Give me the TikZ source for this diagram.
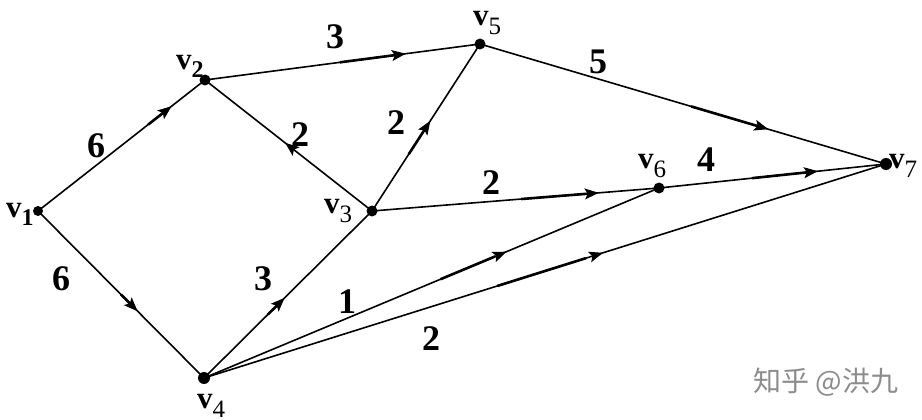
\documentclass[tikz,border=0pt]{standalone}
\usepackage{fontspec}
\setmainfont{Liberation Serif}
\newfontfamily\cjkmark{Noto Sans CJK SC}
\usetikzlibrary{decorations.markings,arrows.meta,calc}
\tikzset{
  x=1pt,y=-1pt,
  vertex/.style={circle,fill=black,inner sep=0pt,minimum size=11pt},
  edgeline/.style={line width=1.6pt,black},
  boldpart/.style={line width=2.6pt,black},
  tipat/.style={postaction={decorate},decoration={markings,mark=at position #1 with {\arrow[line width=1pt]{Stealth[length=14pt,width=11pt,inset=3pt]}}}},
  vname/.style={font=\fontsize{31}{31}\selectfont\bfseries,inner sep=0pt,anchor=base west},
  weight/.style={font=\fontsize{36}{36}\selectfont\bfseries,inner sep=0pt,anchor=center},
}
\newcommand{\vn}[1]{v\raisebox{-8pt}{\fontsize{24}{24}\selectfont #1}}
\newcommand{\vm}[1]{v\raisebox{-9pt}{\fontsize{25}{25}\selectfont\mdseries #1}}
\newcommand{\flowedge}[5]{%
  \draw[edgeline,tipat=#3] (#1.center) -- (#2.center);
  \draw[boldpart] ($(#1.center)!#4!(#2.center)$) -- ($(#1.center)!#5!(#2.center)$);
}
\begin{document}
\begin{tikzpicture}
\useasboundingbox (0,0) rectangle (922,420);
\node[vertex,minimum size=10pt] (v1) at (38,211) {};
\node[vertex] (v2) at (205,80) {};
\node[vertex] (v3) at (372,211) {};
\node[vertex,minimum size=12pt] (v4) at (204,378) {};
\node[vertex] (v5) at (480,44) {};
\node[vertex] (v6) at (659,188) {};
\node[vertex,minimum size=12pt] (v7) at (886,164) {};
\flowedge{v1}{v2}{0.80}{0.66}{0.78}
\flowedge{v1}{v4}{0.60}{0.50}{0.58}
\flowedge{v2}{v5}{0.73}{0.49}{0.70}
\flowedge{v3}{v2}{0.52}{0.48}{0.50}
\flowedge{v4}{v3}{0.48}{0.38}{0.46}
\flowedge{v3}{v5}{0.54}{0.34}{0.52}
\flowedge{v3}{v6}{0.79}{0.52}{0.76}
\flowedge{v5}{v7}{0.71}{0.52}{0.69}
\flowedge{v6}{v7}{0.70}{0.41}{0.67}
\flowedge{v4}{v6}{0.665}{0.52}{0.64}
\flowedge{v4}{v7}{0.585}{0.43}{0.56}
\node[vname] (n1) at (6,217) {\vn{1}};
\node[vname] (n2) at (176,70) {\vn{2}};
\node[vname] (n3) at (324,213) {\vm{3}};
\node[vname] (n4) at (197,408) {\vm{4}};
\node[vname] (n5) at (473,26) {\vm{5}};
\node[vname] (n6) at (638,168) {\vm{6}};
\node[vname] (n7) at (889,168) {\vm{7}};
\node[weight] (w12) at (96,146) {6};
\node[weight] (w14) at (61,279) {6};
\node[weight] (w25) at (335,37) {3};
\node[weight] (w23) at (300,135) {2};
\node[weight] (w35) at (396,123) {2};
\node[weight] (w43) at (263,279) {3};
\node[weight] (w36) at (491,183) {2};
\node[weight] (w57) at (598,62) {5};
\node[weight] (w67) at (706,160) {4};
\node[weight] (w46) at (347,302) {1};
\node[weight] (w47) at (431,339) {2};
\node[inner sep=0pt,text=black!45,font=\fontsize{28}{28}\cjkmark] (mark) at (826,382) {知乎 @洪九};
\end{tikzpicture}
\end{document}
